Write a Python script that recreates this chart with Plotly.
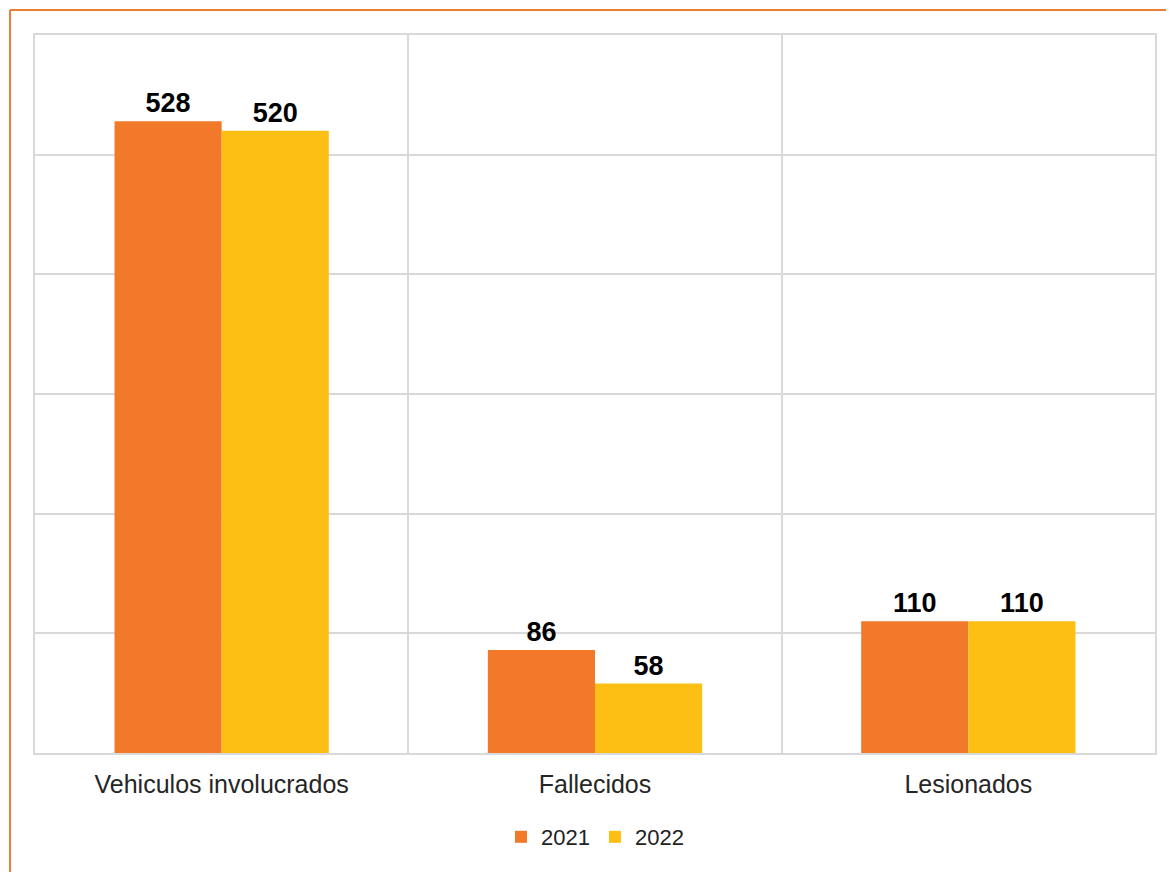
import plotly.graph_objects as go

categories = ["Vehiculos involucrados", "Fallecidos", "Lesionados"]
series_names = ["2021", "2022"]
values_2021 = [528, 86, 110]
values_2022 = [520, 58, 110]

colors = {"2021": "#F3792A", "2022": "#FDBF14"}

fig = go.Figure()
for name, vals in zip(series_names, [values_2021, values_2022]):
    fig.add_trace(go.Bar(
        x=categories, y=vals, name=name,
        marker=dict(color=colors[name], line=dict(width=0)),
        text=[str(v) for v in vals], textposition="outside",
        textfont=dict(family="Liberation Sans, Arial", size=27, color="#000000"),
        texttemplate="<b>%{text}</b>", cliponaxis=False,
    ))

fig.update_layout(
    width=1166, height=864,
    margin=dict(l=27, r=19, t=27, b=119),
    paper_bgcolor="white", plot_bgcolor="white",
    barmode="group", bargap=0.426, bargroupgap=0,
    showlegend=True,
    legend=dict(orientation="h", x=0.5, xanchor="center", y=-0.117, yanchor="middle",
                font=dict(family="Liberation Sans, Arial", size=22, color="#222222"),
                itemwidth=30, traceorder="normal"),
    font=dict(family="Liberation Sans, Arial"),
    xaxis=dict(
        tickson="boundaries", showgrid=True, gridcolor="#D9D9D9", gridwidth=1.5,
        showline=True, linecolor="#D9D9D9", linewidth=2, mirror=True,
        ticks="", ticklabelstandoff=8,
        tickfont=dict(family="Liberation Sans, Arial", size=25, color="#262626"),
    ),
    yaxis=dict(
        range=[0, 600], dtick=100, showticklabels=False,
        showgrid=True, gridcolor="#D9D9D9", gridwidth=1.5,
        showline=True, linecolor="#D9D9D9", linewidth=2, mirror=True,
        zeroline=False,
    ),
    shapes=[
        dict(type="line", xref="paper", yref="paper", x0=-0.0223, x1=1.03,
             y0=1.0348, y1=1.0348, line=dict(color="#ED7D31", width=2)),
        dict(type="line", xref="paper", yref="paper", x0=-0.0223, x1=-0.0223,
             y0=1.0348, y1=-0.2, line=dict(color="#ED7D31", width=2)),
    ],
)

fig.write_html("out.html")
